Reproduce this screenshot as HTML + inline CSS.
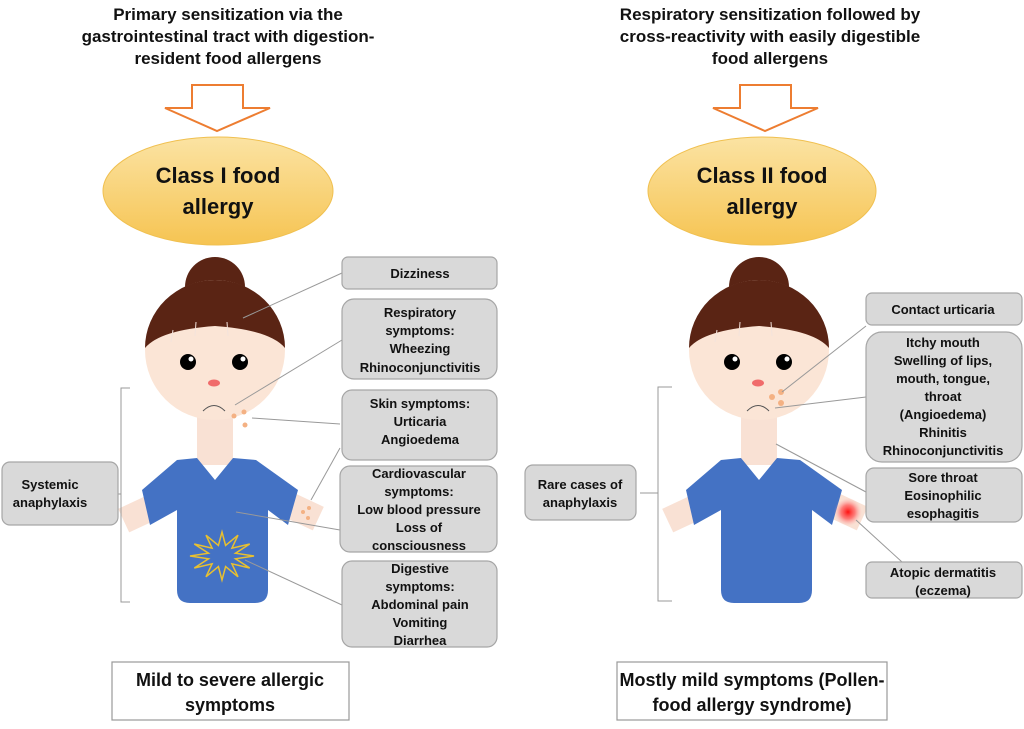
<!DOCTYPE html>
<html><head><style>
html,body{margin:0;padding:0;background:#fff;}
svg{display:block;font-family:"Liberation Sans",sans-serif;font-weight:bold;}
</style></head><body>
<svg width="1024" height="729" viewBox="0 0 1024 729" xmlns="http://www.w3.org/2000/svg">
<defs>
<linearGradient id="g" x1="0" y1="0" x2="0" y2="1">
<stop offset="0" stop-color="#fbe3a3"/><stop offset="1" stop-color="#f6c452"/>
</linearGradient>
<radialGradient id="red"><stop offset="0" stop-color="#ff1010"/><stop offset="0.5" stop-color="#ff5050" stop-opacity="0.7"/><stop offset="1" stop-color="#ffb0b0" stop-opacity="0"/></radialGradient>
<g id="girl">
  <rect x="122" y="500" width="35" height="26" fill="#f9e1d4" transform="rotate(-25 140 513)"/>
  <rect x="285" y="498" width="35" height="26" fill="#f9e1d4" transform="rotate(25 302 511)"/>
  <rect x="197" y="410" width="36" height="55" fill="#f9e1d4"/>
  <path d="M177 460 L197 458 L215 480 L233 458 L256 460 L298 490 L288 525 L268 510 L268 590 Q268 603 255 603 L190 603 Q177 603 177 590 L177 510 L150 525 L142 490 Z" fill="#4472c4"/>
  <circle cx="215" cy="287" r="30" fill="#5a2414"/>
  <circle cx="215" cy="350" r="70" fill="#fbe5d6"/>
  <path d="M145 348 A70 68 0 0 1 285 348 Q270 330 215 326 Q160 330 145 348 Z" fill="#5a2414"/>
  <g stroke="#f3e3dc" stroke-width="1"><line x1="196" y1="322" x2="195" y2="336"/><line x1="227" y1="322" x2="228" y2="336"/><line x1="173" y1="330" x2="171" y2="342"/></g>
  <circle cx="188" cy="362" r="8" fill="#000"/><circle cx="191" cy="359" r="2.5" fill="#fff"/>
  <circle cx="240" cy="362" r="8" fill="#000"/><circle cx="243" cy="359" r="2.5" fill="#fff"/>
  <ellipse cx="214" cy="383" rx="6" ry="3.5" fill="#f06b6b"/>
  <path d="M203 411 Q214 400 225 411" fill="none" stroke="#555" stroke-width="1"/>
</g>
</defs>

<g font-size="17" text-anchor="middle" fill="#111">
<text x="228" y="20">Primary sensitization via the</text>
<text x="228" y="42">gastrointestinal tract with digestion-</text>
<text x="228" y="64">resident food allergens</text>
<text x="770" y="20">Respiratory sensitization followed by</text>
<text x="770" y="42">cross-reactivity with easily digestible</text>
<text x="770" y="64">food allergens</text>
</g>

<path d="M192 85 L243 85 L243 108 L270 108 L217 131 L165 108 L192 108 Z" fill="#fff" stroke="#ed7d31" stroke-width="2"/>
<path d="M740 85 L791 85 L791 108 L818 108 L765 131 L713 108 L740 108 Z" fill="#fff" stroke="#ed7d31" stroke-width="2"/>

<ellipse cx="218" cy="191" rx="115" ry="54" fill="url(#g)" stroke="#f0c050"/>
<ellipse cx="762" cy="191" rx="114" ry="54" fill="url(#g)" stroke="#f0c050"/>
<g font-size="22" text-anchor="middle" fill="#111">
<text x="218" y="183">Class I food</text><text x="218" y="214">allergy</text>
<text x="762" y="183">Class II food</text><text x="762" y="214">allergy</text>
</g>

<use href="#girl"/>
<use href="#girl" transform="translate(544,0)"/>
<g fill="#f4b183"><circle cx="234" cy="416" r="2.5"/><circle cx="244" cy="412" r="2.5"/><circle cx="245" cy="425" r="2.5"/>
<circle cx="303" cy="512" r="2"/><circle cx="309" cy="508" r="2"/><circle cx="308" cy="518" r="2"/>
<circle cx="772" cy="397" r="3"/><circle cx="781" cy="392" r="3"/><circle cx="781" cy="403" r="3"/></g>
<path d="M254 556 L235.5 558.8 L249.7 568 L231.9 563.8 L238 576.8 L225.6 566.6 L222 580 L218.4 566.6 L206 576.8 L212.1 563.8 L194.3 568 L208.5 558.8 L190 556 L208.5 553.2 L194.3 544 L212.1 548.2 L206 535.2 L218.4 545.4 L222 532 L225.6 545.4 L238 535.2 L231.9 548.2 L249.7 544 L235.5 553.2 Z" fill="none" stroke="#e8c030" stroke-width="1.5"/>
<circle cx="848" cy="512" r="14" fill="url(#red)"/>

<path d="M130 388 L121 388 L121 602 L130 602 M121 494 L110 494" fill="none" stroke="#999" stroke-width="1"/>
<path d="M672 387 L658 387 L658 601 L672 601 M658 493 L640 493" fill="none" stroke="#999" stroke-width="1"/>

<g stroke="#999" stroke-width="1">
<line x1="243" y1="318" x2="342" y2="273"/>
<line x1="235" y1="405" x2="342" y2="340"/>
<line x1="252" y1="418" x2="340" y2="424"/>
<line x1="311" y1="500" x2="340" y2="448"/>
<line x1="236" y1="512" x2="340" y2="530"/>
<line x1="245" y1="560" x2="342" y2="605"/>
<line x1="782" y1="392" x2="866" y2="326"/>
<line x1="775" y1="408" x2="866" y2="397"/>
<line x1="776" y1="444" x2="866" y2="492"/>
<line x1="856" y1="520" x2="902" y2="562"/>
</g>

<g fill="#d9d9d9" stroke="#a6a6a6" stroke-width="1.2">
<rect x="342" y="257" width="155" height="32" rx="6"/>
<rect x="342" y="299" width="155" height="80" rx="12"/>
<rect x="342" y="390" width="155" height="70" rx="10"/>
<rect x="340" y="466" width="157" height="86" rx="10"/>
<rect x="342" y="561" width="155" height="86" rx="10"/>
<rect x="2" y="462" width="116" height="63" rx="8"/>
<rect x="866" y="293" width="156" height="32" rx="6"/>
<rect x="866" y="332" width="156" height="130" rx="16"/>
<rect x="866" y="468" width="156" height="54" rx="8"/>
<rect x="866" y="562" width="156" height="36" rx="6"/>
<rect x="525" y="465" width="111" height="55" rx="8"/>
</g>
<g font-size="13" text-anchor="middle" fill="#111">
<text x="420" y="278">Dizziness</text>
<text x="420" y="317">Respiratory</text><text x="420" y="335">symptoms:</text><text x="420" y="353">Wheezing</text><text x="420" y="372">Rhinoconjunctivitis</text>
<text x="420" y="408">Skin symptoms:</text><text x="420" y="426">Urticaria</text><text x="420" y="444">Angioedema</text>
<text x="419" y="478">Cardiovascular</text><text x="419" y="496">symptoms:</text><text x="419" y="514">Low blood pressure</text><text x="419" y="532">Loss of</text><text x="419" y="550">consciousness</text>
<text x="420" y="573">Digestive</text><text x="420" y="591">symptoms:</text><text x="420" y="609">Abdominal pain</text><text x="420" y="627">Vomiting</text><text x="420" y="645">Diarrhea</text>
<text x="50" y="489">Systemic</text><text x="50" y="507">anaphylaxis</text>
<text x="943" y="314">Contact urticaria</text>
<text x="943" y="347">Itchy mouth</text><text x="943" y="365">Swelling of lips,</text><text x="943" y="383">mouth, tongue,</text><text x="943" y="401">throat</text><text x="943" y="419">(Angioedema)</text><text x="943" y="437">Rhinitis</text><text x="943" y="455">Rhinoconjunctivitis</text>
<text x="943" y="482">Sore throat</text><text x="943" y="500">Eosinophilic</text><text x="943" y="518">esophagitis</text>
<text x="943" y="577">Atopic dermatitis</text><text x="943" y="595">(eczema)</text>
<text x="580" y="489">Rare cases of</text><text x="580" y="507">anaphylaxis</text>
</g>

<rect x="112" y="662" width="237" height="58" fill="#fff" stroke="#999" stroke-width="1.2"/>
<rect x="617" y="662" width="270" height="58" fill="#fff" stroke="#999" stroke-width="1.2"/>
<g font-size="18" text-anchor="middle" fill="#111">
<text x="230" y="686">Mild to severe allergic</text><text x="230" y="711">symptoms</text>
<text x="752" y="686">Mostly mild symptoms (Pollen-</text><text x="752" y="711">food allergy syndrome)</text>
</g>
</svg>
</body></html>
